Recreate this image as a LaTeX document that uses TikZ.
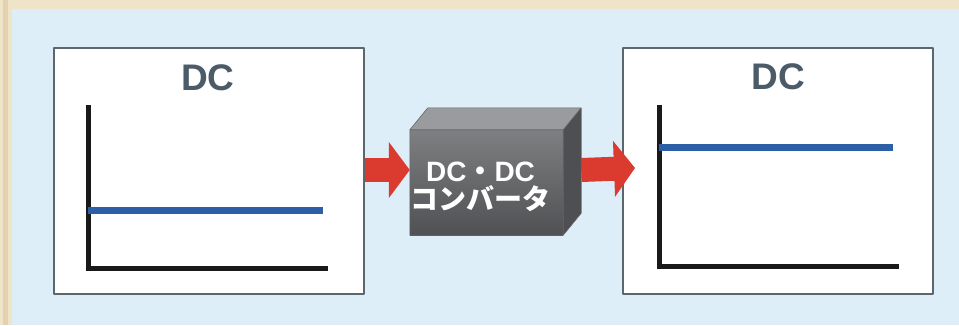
\documentclass[tikz,border=0pt]{standalone}
\usepackage{fontspec}
\setmainfont{Liberation Sans}
\newfontfamily\jpfont{Noto Sans CJK JP}
\usetikzlibrary{arrows.meta,calc}
\definecolor{frameBeige}{HTML}{EFE3C8}
\definecolor{frameTan}{HTML}{E2D2B0}
\definecolor{skyBack}{HTML}{DDEEF9}
\definecolor{boxEdge}{HTML}{5C666D}
\definecolor{titleGray}{HTML}{4B5B68}
\definecolor{levelBlue}{HTML}{2D5FA6}
\definecolor{flowRed}{HTML}{DB3A2E}
\definecolor{cubeFront}{HTML}{5E5F62}
\definecolor{cubeTop}{HTML}{9A9B9E}
\definecolor{cubeSide}{HTML}{4E4F52}
\tikzset{
  graphbox/.style={draw=boxEdge, line width=2pt, fill=white, minimum width=310pt, minimum height=246pt, inner sep=0pt},
  dctitle/.style={text=titleGray, font=\bfseries\fontsize{37}{40}\selectfont},
  axisline/.style={black!90, line width=5pt, line cap=butt, line join=miter},
  level/.style={levelBlue, line width=7pt},
  flow/.style={flowRed, line width=24pt, -{Triangle[length=21pt,width=55pt]}},
  convlabel/.style={text=white, align=center, font=\bfseries\fontsize{28}{28}\selectfont},
}
\begin{document}
\begin{tikzpicture}[x=1pt, y=-1pt, line join=round]
  \def\dx{18}
  \def\dy{22}
  % frame and background
  \fill[frameBeige] (0,0) rectangle (959,325);
  \fill[frameTan] (3,0) rectangle (8,325);
  \fill[skyBack] (12,9) rectangle (959,325);
  \useasboundingbox (0,0) rectangle (959,325);

  % input side
  \node[graphbox] (lbox) at (209,170.5) {};
  \node[dctitle] (ltitle) at (208,78) {DC};
  \coordinate (lo) at (88,268);
  \draw[axisline] (88,105) -- (lo) -- (328,268);
  \draw[level] (88,210) -- (323,210);

  % output side
  \node[graphbox] (rbox) at (778,170.5) {};
  \node[dctitle] (rtitle) at (778,77) {DC};
  \coordinate (ro) at (659,266);
  \draw[axisline] (659,105) -- (ro) -- (899,266);
  \draw[level] (659,147) -- (893,147);

  % converter block
  \node[minimum width=153pt, minimum height=105pt, inner sep=0pt] (conv) at (486.5,182.5) {};
  \coordinate (tip) at (635,168);

  \draw[flow] (lbox.east |- 0,170) -- (conv.west |- 0,170);
  \draw[flow] ($(conv.east |- 0,170)+(\dx,0)$) -- (tip);

  \fill[cubeTop] (conv.north west) -- ++(\dx,-\dy) -- ($(conv.north east)+(\dx,-\dy)$) -- (conv.north east) -- cycle;
  \fill[cubeSide] (conv.north east) -- ++(\dx,-\dy) -- ($(conv.south east)+(\dx,-\dy)$) -- (conv.south east) -- cycle;
  \shade[top color=cubeFront!80!white, bottom color=cubeFront!85!black] (conv.north west) rectangle (conv.south east);
  \draw[black!60, line width=0.6pt] (conv.north west) -- ++(\dx,-\dy) -- ($(conv.north east)+(\dx,-\dy)$) -- ($(conv.south east)+(\dx,-\dy)$) -- (conv.south east) -- (conv.south west) -- cycle
    (conv.north west) -- (conv.north east) -- (conv.south east) (conv.north east) -- ++(\dx,-\dy);
  \node[convlabel] (convtext) at ($(conv.center)+(-6,4)$)
    {DC{\jpfont ・}DC\\{\jpfont コンバータ}};
\end{tikzpicture}
\end{document}
